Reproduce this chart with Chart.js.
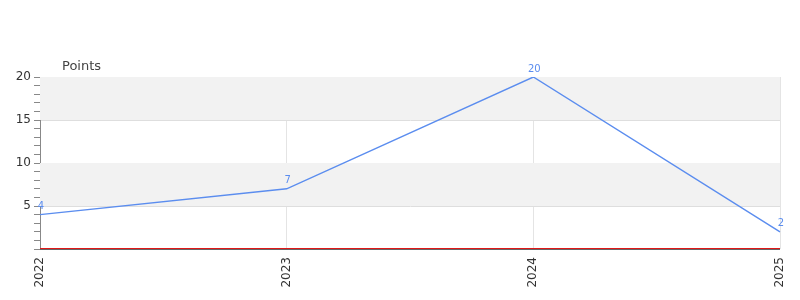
<!DOCTYPE html>
<html>
<head>
<meta charset="utf-8">
<script src="https://cdn.jsdelivr.net/npm/chart.js@4"></script>
<style>
  html, body { margin: 0; padding: 0; background: #fff; }
  #wrap { width: 800px; height: 300px; }
</style>
</head>
<body>
<div id="wrap"><canvas id="chart"></canvas></div>
<script>
const years = ["2022", "2023", "2024", "2025"];
const points = [4, 7, 20, 2];
const yMin = 0;
const yMax = 20;
const bandSteps = [5, 15]; // grey bands start at these values, 5 wide

const lineColor = "#5b8def";

// grey bands behind the plot
const bandsPlugin = {
  id: "bands",
  beforeDatasetsDraw(chart) {
    const { ctx, chartArea, scales } = chart;
    ctx.save();
    ctx.fillStyle = "#f2f2f2";
    bandSteps.forEach(start => {
      const top = scales.y.getPixelForValue(start + 5);
      const bottom = scales.y.getPixelForValue(start);
      ctx.fillRect(chartArea.left, top, chartArea.right - chartArea.left, bottom - top);
    });
    ctx.restore();
  }
};

// value labels above each point + axis title + zero line
const labelsPlugin = {
  id: "valueLabels",
  afterDraw(chart) {
    const { ctx, chartArea, scales } = chart;
    const meta = chart.getDatasetMeta(0);
    ctx.save();
    ctx.font = "10px 'DejaVu Sans'";
    ctx.fillStyle = lineColor;
    ctx.textAlign = "center";
    ctx.textBaseline = "middle";
    meta.data.forEach((pt, i) => {
      ctx.fillText(String(points[i]), pt.x + 1, pt.y - 8);
    });

    ctx.font = "13px 'DejaVu Sans'";
    ctx.fillStyle = "#444";
    ctx.textAlign = "left";
    ctx.fillText("Points", chartArea.left + 22, chartArea.top - 10);

    // red zero line with a grey axis line right under it
    const zeroY = Math.round(scales.y.getPixelForValue(0));
    ctx.lineWidth = 1;
    ctx.strokeStyle = "#666666";
    ctx.beginPath();
    ctx.moveTo(chartArea.left, zeroY + 0.5);
    ctx.lineTo(chartArea.right, zeroY + 0.5);
    ctx.stroke();
    ctx.strokeStyle = "#e01818";
    ctx.beginPath();
    ctx.moveTo(chartArea.left, zeroY - 0.5);
    ctx.lineTo(chartArea.right, zeroY - 0.5);
    ctx.stroke();
    ctx.restore();
  }
};

new Chart(document.getElementById("chart"), {
  type: "line",
  data: {
    labels: years,
    datasets: [{
      data: points,
      borderColor: lineColor,
      borderWidth: 1.4,
      pointRadius: 0,
      tension: 0,
      fill: false
    }]
  },
  options: {
    responsive: true,
    maintainAspectRatio: false,
    animation: false,
    layout: { padding: { top: 77, right: 20, left: 0, bottom: 0 } },
    plugins: {
      legend: { display: false },
      tooltip: { enabled: false }
    },
    scales: {
      x: {
        offset: false,
        afterFit: scale => {
          scale.height = 51;
          scale.paddingLeft = 0;
          scale.paddingRight = 0;
        },
        grid: { color: "#e4e4e4", drawTicks: false },
        border: { display: false },
        ticks: {
          color: "#333",
          font: { family: "DejaVu Sans", size: 12 },
          minRotation: 90,
          maxRotation: 90,
          padding: 8
        }
      },
      y: {
        min: yMin,
        max: yMax,
        afterFit: scale => { scale.width = 40; },
        border: { color: "#888", width: 1 },
        grid: {
          color: ctx => (ctx.tick && ctx.tick.value % 5 === 0 && ctx.tick.value > 0) ? "#dedede" : "rgba(0,0,0,0)",
          tickColor: "#888",
          tickLength: 6
        },
        ticks: {
          stepSize: 1,
          autoSkip: false,
          color: "#333",
          padding: 3,
          font: { family: "DejaVu Sans", size: 12 },
          callback: v => (v % 5 === 0 && v > 0) ? String(v) : ""
        }
      }
    }
  },
  plugins: [bandsPlugin, labelsPlugin]
});
</script>
</body>
</html>
